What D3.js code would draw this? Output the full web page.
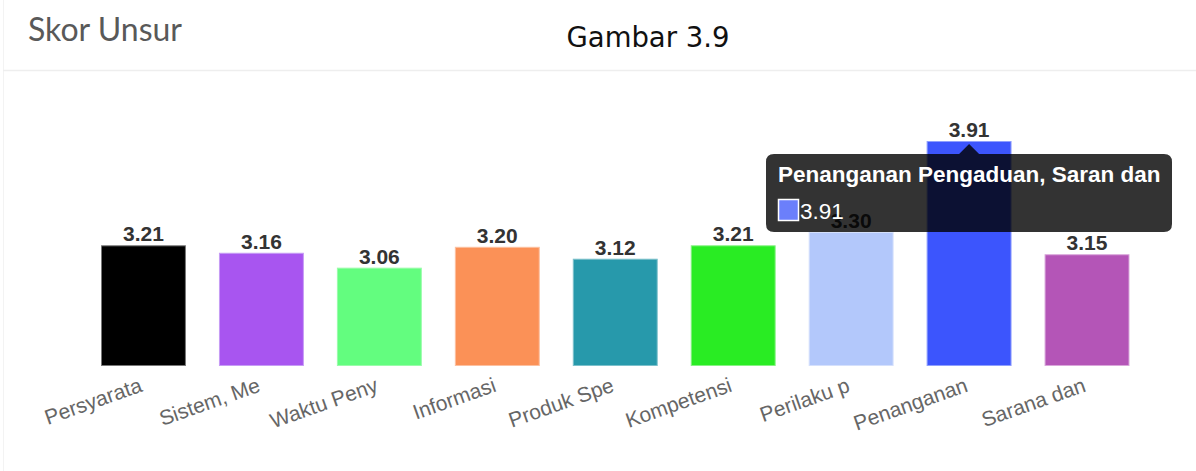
<!DOCTYPE html>
<html>
<head>
<meta charset="utf-8">
<script src="https://cdn.jsdelivr.net/npm/d3@7"></script>
<style>
  html, body { margin: 0; padding: 0; background: #ffffff; }
  svg { display: block; }
</style>
</head>
<body>
<svg id="chart" width="1196" height="471"></svg>
<script>
// ---- data ----
const categories = ["Persyarata", "Sistem, Me", "Waktu Peny", "Informasi", "Produk Spe",
                    "Kompetensi", "Perilaku p", "Penanganan", "Sarana dan"];
const values = [3.21, 3.16, 3.06, 3.20, 3.12, 3.21, 3.30, 3.91, 3.15];
const colors = ["#000000", "#a855f0", "#63fd7f", "#fb9157", "#2799ab",
                "#29ec23", "#b3c8fb", "#3c55fd", "#b455b7"];
const borderColors = ["#777777", "#c69cf5", "#9afcaa", "#fcc0a0", "#7cc0cb",
                      "#86f283", "#d5e0fc", "#8f9ffd", "#d9a6da"];
const tooltipTitle = "Penanganan Pengaduan, Saran dan";
const tooltipIndex = 7;
const tooltipSwatch = "#6b7ffb";
const yMin = 2.4;

// ---- drawing ----
const svg = d3.select("#chart");

// card frame
svg.append("line").attr("x1", 3.5).attr("x2", 3.5).attr("y1", 0).attr("y2", 471)
   .attr("stroke", "#f3f3f3").attr("stroke-width", 1);
svg.append("line").attr("x1", 3).attr("x2", 1196).attr("y1", 70.5).attr("y2", 70.5)
   .attr("stroke", "#eeeeee").attr("stroke-width", 1.5);

svg.append("text").attr("x", 28).attr("y", 41)
   .attr("font-family", "Lato, 'Open Sans', sans-serif").attr("font-size", 32)
   .attr("fill", "#595959").text("Skor Unsur");

svg.append("text").attr("x", 648).attr("y", 47).attr("text-anchor", "middle")
   .attr("font-family", "'DejaVu Sans', Verdana, sans-serif").attr("font-size", 27.5)
   .attr("fill", "#111").text("Gambar 3.9");

const x = d3.scaleBand().domain(categories)
  .range([84.5, 1146])
  .paddingInner(0.28).paddingOuter(0.14);
const y = d3.scaleLinear().domain([yMin, d3.max(values)]).range([366, 141]);

const g = svg.append("g");

g.selectAll("rect.bar").data(values).join("rect")
  .attr("class", "bar")
  .attr("x", (d, i) => x(categories[i]) + 0.5)
  .attr("y", d => y(d) + 0.5)
  .attr("width", x.bandwidth() - 1)
  .attr("height", d => y(yMin) - y(d) - 1)
  .attr("fill", (d, i) => colors[i])
  .attr("stroke", (d, i) => borderColors[i])
  .attr("stroke-width", 1);

g.selectAll("text.val").data(values).join("text")
  .attr("class", "val")
  .attr("x", (d, i) => x(categories[i]) + x.bandwidth() / 2)
  .attr("y", d => y(d) - 4)
  .attr("text-anchor", "middle")
  .attr("font-family", "Arial, 'Liberation Sans', sans-serif")
  .attr("font-weight", "bold").attr("font-size", 21)
  .attr("fill", "#333")
  .text(d => d.toFixed(2));

// x axis labels (rotated)
const xAxis = d3.axisBottom(x).tickSize(0).tickPadding(0);
const ax = svg.append("g").attr("transform", "translate(0,366)").call(xAxis);
ax.select(".domain").remove();
ax.selectAll(".tick text")
  .attr("font-family", "Arial, 'Liberation Sans', sans-serif")
  .attr("font-size", 21)
  .attr("fill", "#666")
  .attr("text-anchor", "end")
  .attr("dy", 0)
  .attr("y", 0)
  .attr("transform", "translate(0,25) rotate(-19.5)");

// tooltip
const tcx = x(categories[tooltipIndex]) + x.bandwidth() / 2;
const tip = svg.append("g");
const tx0 = 766, ty0 = 154, tw = 406, th = 78;
const r = 8;
const tipTop = y(values[tooltipIndex]) + 3;
const pathD = `M${tx0 + r},${ty0} L${tcx - 10},${ty0} L${tcx},${tipTop} L${tcx + 10},${ty0} ` +
  `L${tx0 + tw - r},${ty0} Q${tx0 + tw},${ty0} ${tx0 + tw},${ty0 + r} ` +
  `L${tx0 + tw},${ty0 + th - r} Q${tx0 + tw},${ty0 + th} ${tx0 + tw - r},${ty0 + th} ` +
  `L${tx0 + r},${ty0 + th} Q${tx0},${ty0 + th} ${tx0},${ty0 + th - r} ` +
  `L${tx0},${ty0 + r} Q${tx0},${ty0} ${tx0 + r},${ty0} Z`;
tip.append("path").attr("d", pathD).attr("fill", "rgba(0,0,0,0.8)");
tip.append("text").attr("x", 778).attr("y", 182)
  .attr("font-family", "Arial, 'Liberation Sans', sans-serif")
  .attr("font-weight", "bold").attr("font-size", 22.5)
  .attr("fill", "#fff").text(tooltipTitle);
tip.append("rect").attr("x", 778.5).attr("y", 199.5).attr("width", 20).attr("height", 21)
  .attr("fill", tooltipSwatch).attr("stroke", "#fff").attr("stroke-width", 1.5);
tip.append("text").attr("x", 800).attr("y", 219)
  .attr("font-family", "Arial, 'Liberation Sans', sans-serif")
  .attr("font-size", 22.5).attr("fill", "#fff")
  .text(values[tooltipIndex].toFixed(2));
</script>
</body>
</html>
